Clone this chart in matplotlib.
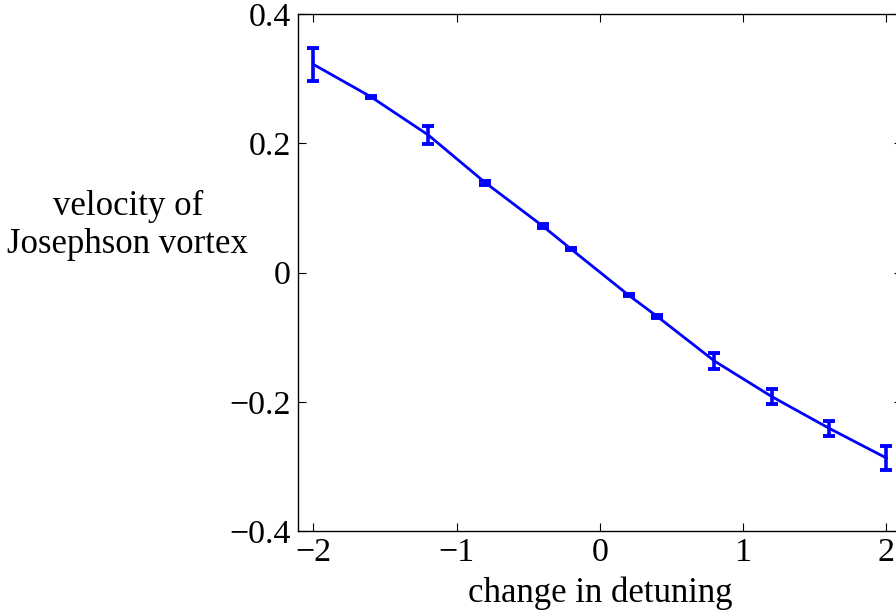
import numpy as np
import matplotlib
matplotlib.use('Agg')
import matplotlib.pyplot as plt

# --- vortex velocity vs detuning shift ---
detuning = [-2.0, -1.6, -1.2, -0.8, -0.4, -0.2, 0.2, 0.4, 0.8, 1.2, 1.6, 2.0]
velocity = [0.322, 0.272, 0.213, 0.139, 0.072, 0.036, -0.035, -0.068, -0.137, -0.192, -0.241, -0.287]
velocity_err = [0.026, 0.0015, 0.0145, 0.003, 0.0036, 0.0015, 0.001, 0.003, 0.012, 0.012, 0.012, 0.018]

plt.rcParams['font.family'] = ['Liberation Serif', 'DejaVu Serif']
plt.rcParams['font.size'] = 24

fig = plt.figure(figsize=(8.96, 6.10), dpi=100)
ax = fig.add_axes([0.3323, 0.1295, 0.6745, 0.8475])

ax.errorbar(detuning, velocity, yerr=velocity_err, color='#0000ff',
            linewidth=2.0, elinewidth=2.6, capsize=4.2, capthick=2.8)

ax.set_xlim(-2.11, 2.11)
ax.set_ylim(-0.4, 0.4)
ax.set_xticks([-2, -1, 0, 1, 2])
ax.set_yticks([-0.4, -0.2, 0, 0.2, 0.4])
ax.set_yticklabels(['\u22120.4', '\u22120.2', '0', '0.2', '0.4'])
ax.set_xticklabels(['\u22122', '\u22121', '0', '1', '2'])
ax.tick_params(direction='in', length=6, width=0.8, top=True, right=True,
               labelsize=24.5)
ax.tick_params(axis='y', pad=5)
ax.tick_params(axis='x', pad=5)
for s in ax.spines.values():
    s.set_linewidth(1.0)

ax.set_xlabel('change in detuning', fontsize=25, va='center')
ax.xaxis.set_label_coords(0.5003, -0.12)
ax.set_ylabel('velocity of\nJosephson vortex', fontsize=25, rotation=0,
              ha='center', va='center', linespacing=1.2)
ax.yaxis.set_label_coords(-0.281, 0.592)

fig.savefig('out.png', dpi=100)
